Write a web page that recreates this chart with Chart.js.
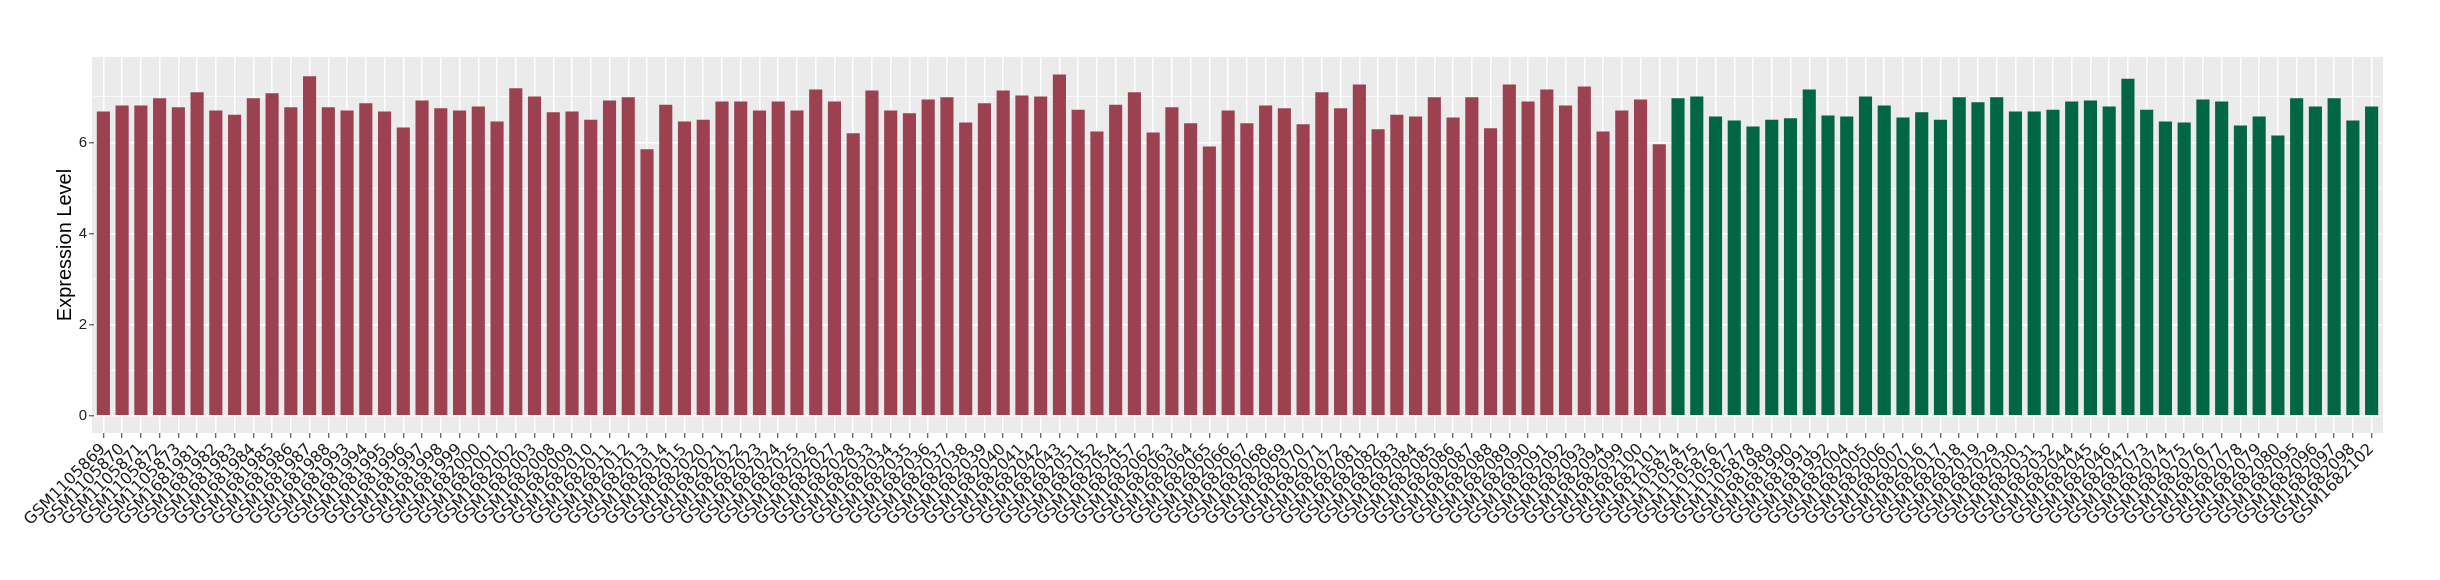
<!DOCTYPE html>
<html>
<head>
<meta charset="utf-8">
<script src="https://cdn.jsdelivr.net/npm/chart.js@4.4.1/dist/chart.umd.min.js"></script>
<style>
  html, body { margin: 0; padding: 0; background: #ffffff; }
  #wrap { width: 2440px; height: 580px; }
</style>
</head>
<body>
<div id="wrap"><canvas id="exprChart" width="2440" height="580"></canvas></div>
<script>
// samples of the first group (red) and their expression levels
const redSamples = [
    'GSM1105869', 'GSM1105870', 'GSM1105871', 'GSM1105872', 'GSM1105873',
    'GSM1681981', 'GSM1681982', 'GSM1681983', 'GSM1681984', 'GSM1681985',
    'GSM1681986', 'GSM1681987', 'GSM1681988', 'GSM1681993', 'GSM1681994',
    'GSM1681995', 'GSM1681996', 'GSM1681997', 'GSM1681998', 'GSM1681999',
    'GSM1682000', 'GSM1682001', 'GSM1682002', 'GSM1682003', 'GSM1682008',
    'GSM1682009', 'GSM1682010', 'GSM1682011', 'GSM1682012', 'GSM1682013',
    'GSM1682014', 'GSM1682015', 'GSM1682020', 'GSM1682021', 'GSM1682022',
    'GSM1682023', 'GSM1682024', 'GSM1682025', 'GSM1682026', 'GSM1682027',
    'GSM1682028', 'GSM1682033', 'GSM1682034', 'GSM1682035', 'GSM1682036',
    'GSM1682037', 'GSM1682038', 'GSM1682039', 'GSM1682040', 'GSM1682041',
    'GSM1682042', 'GSM1682043', 'GSM1682051', 'GSM1682052', 'GSM1682054',
    'GSM1682057', 'GSM1682062', 'GSM1682063', 'GSM1682064', 'GSM1682065',
    'GSM1682066', 'GSM1682067', 'GSM1682068', 'GSM1682069', 'GSM1682070',
    'GSM1682071', 'GSM1682072', 'GSM1682081', 'GSM1682082', 'GSM1682083',
    'GSM1682084', 'GSM1682085', 'GSM1682086', 'GSM1682087', 'GSM1682088',
    'GSM1682089', 'GSM1682090', 'GSM1682091', 'GSM1682092', 'GSM1682093',
    'GSM1682094', 'GSM1682099', 'GSM1682100', 'GSM1682101'
];
const redValues = [
    6.68, 6.81, 6.81, 6.97, 6.77, 7.10, 6.70, 6.61, 6.97, 7.08,
    6.77, 7.45, 6.77, 6.70, 6.86, 6.68, 6.33, 6.92, 6.75, 6.70,
    6.79, 6.46, 7.19, 7.01, 6.66, 6.68, 6.50, 6.92, 6.99, 5.85,
    6.83, 6.46, 6.50, 6.90, 6.90, 6.70, 6.90, 6.70, 7.16, 6.90,
    6.20, 7.14, 6.70, 6.64, 6.94, 6.99, 6.44, 6.86, 7.14, 7.03,
    7.01, 7.49, 6.72, 6.24, 6.83, 7.10, 6.22, 6.77, 6.42, 5.91,
    6.70, 6.42, 6.81, 6.75, 6.40, 7.10, 6.75, 7.27, 6.29, 6.61,
    6.57, 6.99, 6.55, 6.99, 6.31, 7.27, 6.90, 7.16, 6.81, 7.23,
    6.24, 6.70, 6.94, 5.96
];

// samples of the second group (green)
const greenSamples = [
    'GSM1105874', 'GSM1105875', 'GSM1105876', 'GSM1105877', 'GSM1105878',
    'GSM1681989', 'GSM1681990', 'GSM1681991', 'GSM1681992', 'GSM1682004',
    'GSM1682005', 'GSM1682006', 'GSM1682007', 'GSM1682016', 'GSM1682017',
    'GSM1682018', 'GSM1682019', 'GSM1682029', 'GSM1682030', 'GSM1682031',
    'GSM1682032', 'GSM1682044', 'GSM1682045', 'GSM1682046', 'GSM1682047',
    'GSM1682073', 'GSM1682074', 'GSM1682075', 'GSM1682076', 'GSM1682077',
    'GSM1682078', 'GSM1682079', 'GSM1682080', 'GSM1682095', 'GSM1682096',
    'GSM1682097', 'GSM1682098', 'GSM1682102'
];
const greenValues = [
    6.97, 7.01, 6.57, 6.48, 6.35, 6.50, 6.53, 7.16, 6.59, 6.57,
    7.01, 6.81, 6.55, 6.66, 6.50, 6.99, 6.88, 6.99, 6.68, 6.68,
    6.72, 6.90, 6.92, 6.79, 7.40, 6.72, 6.46, 6.44, 6.94, 6.90,
    6.37, 6.57, 6.15, 6.97, 6.79, 6.97, 6.48, 6.79
];

const yTicks = [0, 1, 2, 3, 4, 5, 6, 7];   // odd ones are minor grid lines only
const yMin = -0.375;
const yMax = 7.875;

const RED = '#9B4150';
const GREEN = '#006644';

const labels = redSamples.concat(greenSamples);
const values = redValues.concat(greenValues);
const colors = redSamples.map(() => RED).concat(greenSamples.map(() => GREEN));

// grey panel like ggplot's theme_gray
const panelBackground = {
    id: 'panelBackground',
    beforeDraw(chart) {
        const { ctx, chartArea } = chart;
        ctx.save();
        ctx.fillStyle = '#EBEBEB';
        ctx.fillRect(chartArea.left - 2, chartArea.top, chartArea.width + 4, chartArea.height);
        ctx.restore();
    }
};

const ctx = document.getElementById('exprChart');

new Chart(ctx, {
    type: 'bar',
    data: {
        labels: labels,
        datasets: [{
            data: values,
            backgroundColor: colors,
            borderWidth: 0,
            barPercentage: 0.7,
            categoryPercentage: 1.0
        }]
    },
    options: {
        responsive: false,
        animation: false,
        layout: { padding: { top: 57, right: 59, bottom: 0, left: 0 } },
        plugins: {
            legend: { display: false },
            tooltip: { enabled: false }
        },
        scales: {
            x: {
                border: { display: false },
                grid: {
                    offset: false,
                    color: '#FFFFFF',
                    lineWidth: 1.5,
                    drawTicks: true,
                    tickLength: 5,
                    tickColor: '#333333',
                    tickWidth: 1
                },
                ticks: {
                    autoSkip: false,
                    minRotation: 45,
                    maxRotation: 45,
                    padding: 2,
                    color: '#1a1a1a',
                    font: { family: 'DejaVu Sans', size: 16 }
                },
                afterFit(scale) { scale.height = 147; }
            },
            y: {
                min: yMin,
                max: yMax,
                border: { display: false },
                afterBuildTicks(scale) {
                    scale.ticks = yTicks.map(v => ({ value: v }));
                },
                grid: {
                    color: '#FFFFFF',
                    lineWidth: c => (c.tick && c.tick.value % 2 === 0) ? 1.6 : 0.8,
                    tickLength: 5,
                    tickColor: c => (c.tick && c.tick.value % 2 === 0) ? '#333333' : 'rgba(0,0,0,0)',
                    tickWidth: 1
                },
                ticks: {
                    padding: 2,
                    color: '#222222',
                    font: { family: 'Liberation Sans', size: 15 },
                    callback: v => (v % 2 === 0 ? String(v) : '')
                },
                title: {
                    display: true,
                    text: 'Expression Level',
                    color: '#000000',
                    font: { family: 'Liberation Sans', size: 20 },
                    padding: { top: 53, bottom: 0 }
                },
                afterFit(scale) { scale.width = 94; }
            }
        }
    },
    plugins: [panelBackground]
});
</script>
</body>
</html>
